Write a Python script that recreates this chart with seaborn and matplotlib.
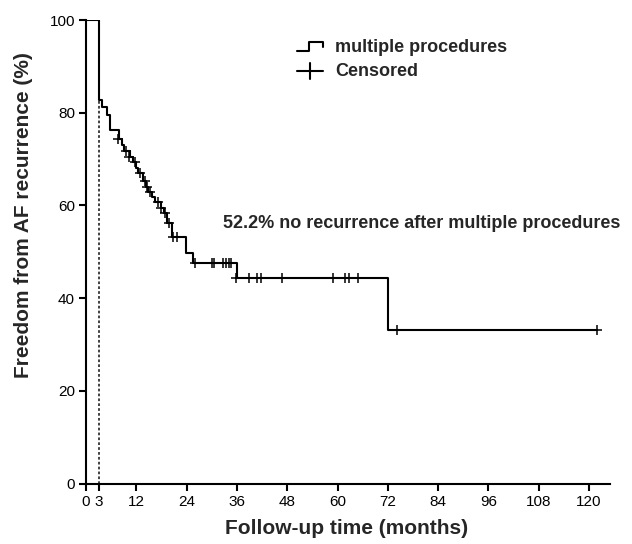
import matplotlib
matplotlib.use("Agg")
import matplotlib.pyplot as plt
from matplotlib.legend_handler import HandlerBase
from matplotlib.lines import Line2D
import seaborn as sns
import pandas as pd

# ---- data ----
step_times = [0, 3, 3.9, 4.9, 5.7, 7.9, 8.5, 9.1, 10.5, 11.3, 11.9, 12.5, 13.7, 14.3,
              14.9, 15.7, 16.5, 17.8, 18.5, 19.3, 20.4, 23.9, 25.6, 36.0, 72.0, 122.0]
step_levels = [100, 82.7, 81.3, 79.5, 76.3, 74.3, 73.0, 71.8, 70.5, 69.3, 68.1, 66.9, 65.2, 64.0,
               62.9, 61.8, 60.7, 59.5, 58.3, 56.3, 53.2, 49.7, 47.5, 44.3, 33.2, 33.2]
censor_times = [7.6, 9.6, 10.2, 11.6, 12.9, 14.0, 14.6, 15.3, 17.2, 18.0, 18.8, 19.8, 20.8, 21.8,
                25.9, 30.0, 30.5, 32.6, 33.3, 34.0, 34.7, 35.7, 38.9, 40.7, 41.7, 46.8,
                58.9, 61.8, 62.8, 64.8, 74.2, 122.0]
censor_levels = [74.3, 71.8, 70.5, 69.3, 66.9, 65.2, 64.0, 62.9, 60.7, 59.5, 58.3, 56.3, 53.2, 53.2,
                 47.5, 47.5, 47.5, 47.5, 47.5, 47.5, 47.5, 44.3, 44.3, 44.3, 44.3, 44.3,
                 44.3, 44.3, 44.3, 44.3, 33.2, 33.2]
blanking_month = [3, 3]
blanking_levels = [0, 82.7]
x_ticks = [0, 3, 12, 24, 36, 48, 60, 72, 84, 96, 108, 120]
y_ticks = [0, 20, 40, 60, 80, 100]
series_label = "multiple procedures"
censor_label = "Censored"
annotation = "52.2% no recurrence after multiple procedures"

sns.set_theme(style="ticks")
plt.rcParams["font.family"] = ["Liberation Sans", "DejaVu Sans"]

fig = plt.figure(figsize=(6.32, 5.44), dpi=100)
ax = fig.add_axes([86 / 632, 1 - 483.5 / 544, (610 - 86) / 632, (483.5 - 20) / 544])

km = pd.DataFrame({"t": step_times, "s": step_levels})
cz = pd.DataFrame({"t": censor_times, "s": censor_levels})
bl = pd.DataFrame({"t": blanking_month, "s": blanking_levels})

sns.lineplot(data=bl, x="t", y="s", ax=ax, color="#333333", lw=1.3,
             linestyle=(0, (1.5, 1.2)), estimator=None, sort=False)
sns.lineplot(data=km, x="t", y="s", ax=ax, color="black", lw=1.5,
             drawstyle="steps-post", estimator=None, sort=False)
sns.scatterplot(data=cz, x="t", y="s", ax=ax, marker="+", s=45, color="black",
                linewidth=1.1, zorder=5)

ax.set_xlim(0, 125)
ax.set_ylim(0, 100)
ax.set_xticks(x_ticks)
ax.set_yticks(y_ticks)
for s in ["top", "right"]:
    ax.spines[s].set_visible(False)
for s in ["left", "bottom"]:
    ax.spines[s].set_linewidth(1.5)
    ax.spines[s].set_color("black")
ax.tick_params(axis="both", direction="out", length=5, width=1.5, color="black",
               labelsize=11, labelcolor="black", pad=3)
ax.set_xlabel("Follow-up time (months)", fontsize=15, fontweight="bold")
ax.set_ylabel("Freedom from AF recurrence (%)", fontsize=15, fontweight="bold")
ax.xaxis.set_label_coords(0.498, -0.077)
ax.yaxis.set_label_coords(-0.101, 0.58)
ax.margins(0)

ax.text(0.261, 0.562, annotation, transform=ax.transAxes, fontsize=13,
        fontweight="bold", va="center", ha="left")


class StepHandler(HandlerBase):
    def create_artists(self, legend, orig_handle, xdescent, ydescent, width, height,
                       fontsize, trans):
        x0 = -xdescent
        y0 = -ydescent
        xs = [x0, x0 + 0.45 * width, x0 + 0.45 * width, x0 + width, x0 + width]
        ys = [y0 + 0.15 * height, y0 + 0.15 * height, y0 + 0.8 * height,
              y0 + 0.8 * height, y0 + 0.45 * height]
        ln = Line2D(xs, ys, color="black", lw=1.5, transform=trans)
        return [ln]


class CrossHandler(HandlerBase):
    def create_artists(self, legend, orig_handle, xdescent, ydescent, width, height,
                       fontsize, trans):
        x0 = -xdescent
        y0 = -ydescent
        h = Line2D([x0, x0 + width], [y0 + 0.4 * height] * 2, color="black", lw=1.5,
                   transform=trans)
        v = Line2D([x0 + 0.5 * width] * 2, [y0 - 0.25 * height, y0 + 1.05 * height],
                   color="black", lw=1.5, transform=trans)
        return [h, v]


h1 = Line2D([], [], color="black")
h2 = Line2D([], [], color="black", marker="+")
leg = ax.legend([h1, h2], [series_label, censor_label],
                handler_map={h1: StepHandler(), h2: CrossHandler()},
                loc="upper left", bbox_to_anchor=(0.372, 0.993), frameon=False,
                prop={"weight": "bold", "size": 13}, handlelength=1.45,
                handletextpad=0.65, labelspacing=0.35)

fig.savefig("out.png", dpi=100)
